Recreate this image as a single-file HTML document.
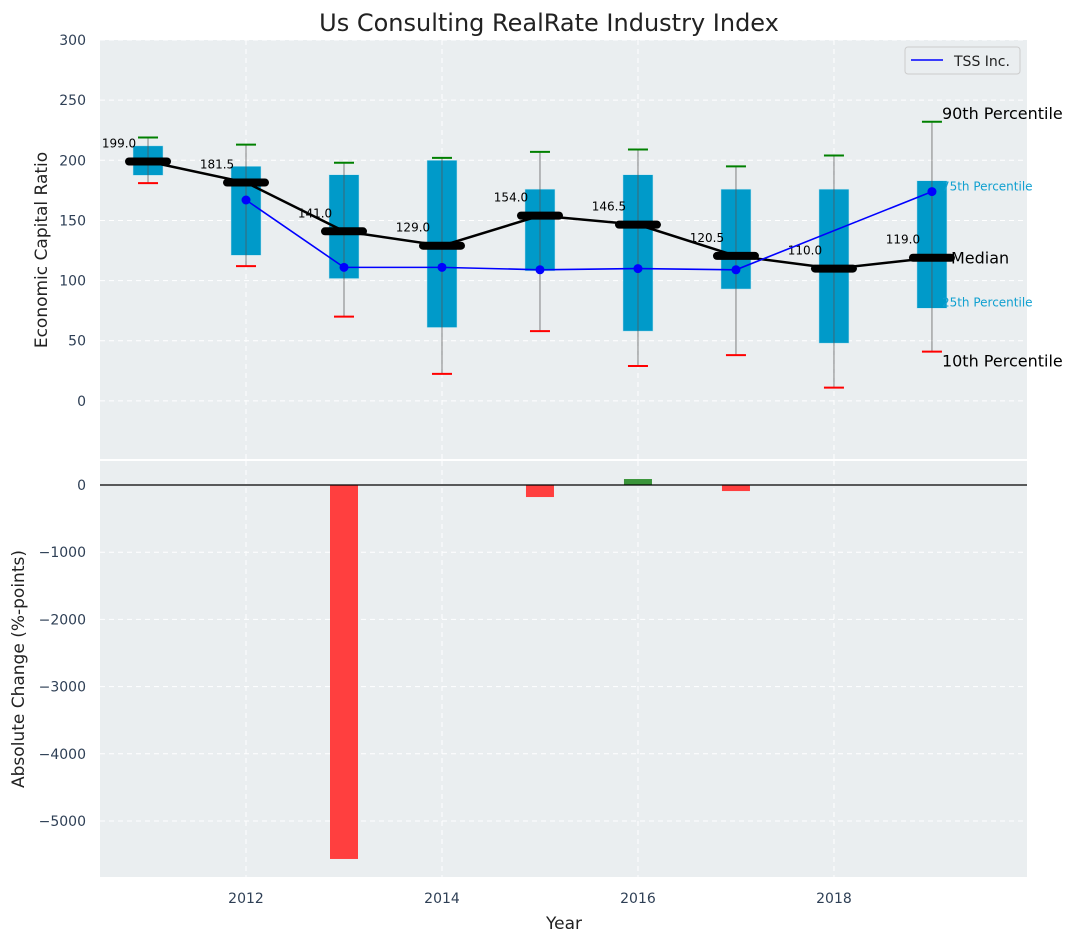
<!DOCTYPE html>
<html><head><meta charset="utf-8"><style>
body{margin:0;background:#fff;font-family:"Liberation Sans","DejaVu Sans",sans-serif}
svg text{font-family:"DejaVu Sans","Liberation Sans",sans-serif}
</style></head><body>
<svg id="c" width="1077" height="942" xmlns="http://www.w3.org/2000/svg"></svg>
<script>
const years=[2011,2012,2013,2014,2015,2016,2017,2018,2019];
const p90=[219,213,198,202,207,209,195,204,232];
const p75=[212,195,188,200,176,188,176,176,183];
const medians=[199,181.5,141,129,154,146.5,120.5,110,119];
const p25=[187.5,121,101.7,61,108,58,93,48,77];
const p10=[181,112,70,22.5,58,29,38,11,41];
const tss=[null,167,111,111,109,110,109,null,174];
const changes=[0,0,-5565,0,-179,89,-90,0,0];
const yTicksTop=[0,50,100,150,200,250,300];
const yTicksBot=[0,-1000,-2000,-3000,-4000,-5000];
const xTicks=[2012,2014,2016,2018];

const NS="http://www.w3.org/2000/svg";
const svg=document.getElementById('c');
function el(t,a,p){const e=document.createElementNS(NS,t);for(const k in a)e.setAttribute(k,a[k]);(p||svg).appendChild(e);return e;}
const L=100,R=1027;
const X=v=>L+(v-2010.51)/(2019.97-2010.51)*(R-L);
const T0=40,T1=459,Yt=v=>T0+(300-v)/(300+48.3)*(T1-T0);
const B0=461,B1=877,Yb=v=>485-v*0.0672;
let bg=el('rect',{x:L,y:T0,width:R-L,height:T1-T0,fill:'#eaeef0'});

let bg2=el('rect',{x:L,y:B0,width:R-L,height:B1-B0,fill:'#eaeef0'});

xTicks.forEach(t=>{
  el('line',{x1:X(t),x2:X(t),y1:T0,y2:T1,stroke:'#fff','stroke-dasharray':'5,4','stroke-width':1});
  el('line',{x1:X(t),x2:X(t),y1:B0,y2:B1,stroke:'#fff','stroke-dasharray':'5,4','stroke-width':1});
  let tx=el('text',{x:X(t),y:903,'text-anchor':'middle','font-size':14,fill:'#2e3f55'});tx.textContent=t;
  
});
yTicksTop.forEach(t=>{
  el('line',{x1:L,x2:R,y1:Yt(t),y2:Yt(t),stroke:'#fff','stroke-dasharray':'5,4','stroke-width':1});
  let tx=el('text',{x:86,y:Yt(t)+5,'text-anchor':'end','font-size':14,fill:'#2e3f55'});tx.textContent=t;
  
});
yTicksBot.forEach(t=>{
  el('line',{x1:L,x2:R,y1:Yb(t),y2:Yb(t),stroke:'#fff','stroke-dasharray':'5,4','stroke-width':1});
  let tx=el('text',{x:86,y:Yb(t)+5,'text-anchor':'end','font-size':14,fill:'#2e3f55'});tx.textContent=(t<0?'\u2212'+(-t):t);
  
});
years.forEach((yr,i)=>{
  const x=X(yr),w=30;
  let b=el('rect',{x:x-w/2,y:Yt(p75[i]),width:w,height:Yt(p25[i])-Yt(p75[i]),fill:'#009ac9',stroke:'#bfe4f0','stroke-width':0.5});
  
  el('line',{x1:x,x2:x,y1:Yt(p90[i]),y2:Yt(p10[i]),stroke:'#555','stroke-opacity':0.6,'stroke-width':1.2});
  let g=el('line',{x1:x-10,x2:x+10,y1:Yt(p90[i]),y2:Yt(p90[i]),stroke:'green','stroke-width':2});
  
  let r=el('line',{x1:x-10,x2:x+10,y1:Yt(p10[i]),y2:Yt(p10[i]),stroke:'red','stroke-width':2});
  
});
let mp=el('polyline',{points:years.map((y,i)=>X(y)+','+Yt(medians[i])).join(' '),fill:'none',stroke:'#000','stroke-width':2.5});

years.forEach((yr,i)=>{
  let m=el('line',{x1:X(yr)-19,x2:X(yr)+19,y1:Yt(medians[i]),y2:Yt(medians[i]),stroke:'#000','stroke-width':8,'stroke-linecap':'round'});
  
  let t=el('text',{x:X(yr)-29,y:Yt(medians[i])-14,'text-anchor':'middle','font-size':12,fill:'#000'});t.textContent=medians[i].toFixed(1);
  
});
const pts=years.map((y,i)=>tss[i]==null?null:X(y)+','+Yt(tss[i])).filter(p=>p);
let tl=el('polyline',{points:pts.join(' '),fill:'none',stroke:'#0000ff','stroke-width':1.6});

years.forEach((yr,i)=>{if(tss[i]==null)return;
  let c=el('circle',{cx:X(yr),cy:Yt(tss[i]),r:4.5,fill:'#0000ff'});
  });
// annotations (pixel offsets relative to last-year stats)
const ax=X(2019)+10;
[['90th Percentile',Yt(p90[8])-3,'#000',16,ax],['75th Percentile',Yt(p75[8])+10,'#10a0d0',12,ax],['Median',Yt(medians[8])+6,'#000',16,X(2019)+19],['25th Percentile',Yt(p25[8])-2,'#10a0d0',12,ax],['10th Percentile',Yt(p10[8])+15,'#000',16,ax]].forEach(a=>{
  let t=el('text',{x:a[4],y:a[1],'font-size':a[3],fill:a[2]});t.textContent=a[0];
  
});
years.forEach((yr,i)=>{const v=changes[i];if(!v)return;
  let b=el('rect',{x:X(yr)-14,y:Math.min(Yb(0),Yb(v)),width:28,height:Math.abs(Yb(v)-Yb(0)),fill:v<0?'#ff3f3f':'#3a943a'});
  });
el('line',{x1:L,x2:R,y1:Yb(0),y2:Yb(0),stroke:'#000','stroke-width':1.2});
let lg=el('g',{});
el('rect',{x:905,y:47,width:115,height:27,rx:3,fill:'#eaeef0',stroke:'#ccc'},lg);
el('line',{x1:911,x2:943,y1:60,y2:60,stroke:'#0000ff','stroke-width':1.6},lg);
let lt=el('text',{x:954,y:66,'font-size':14,fill:'#222'},lg);lt.textContent='TSS Inc.';
let tt=el('text',{x:549,y:31,'text-anchor':'middle','font-size':24,fill:'#222'});tt.textContent='Us Consulting RealRate Industry Index';

let yl=el('text',{x:0,y:0,'text-anchor':'middle','font-size':17,fill:'#222',transform:'translate(47,250) rotate(-90)'});yl.textContent='Economic Capital Ratio';

let yl2=el('text',{x:0,y:0,'text-anchor':'middle','font-size':17,fill:'#222',transform:'translate(24,669) rotate(-90)'});yl2.textContent='Absolute Change (%-points)';

let xl=el('text',{x:564,y:929,'text-anchor':'middle','font-size':17,fill:'#222'});xl.textContent='Year';

</script>
</body></html>
